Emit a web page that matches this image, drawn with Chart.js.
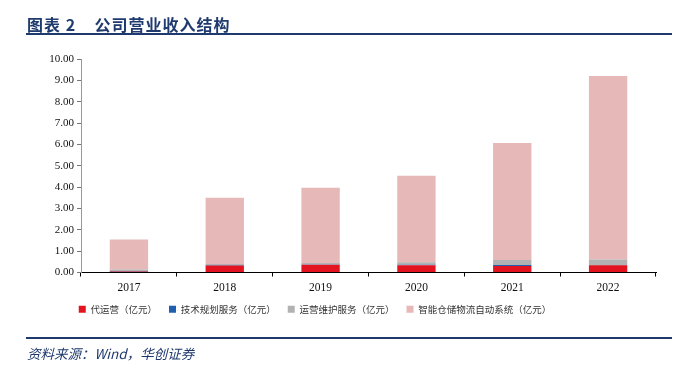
<!DOCTYPE html>
<html>
<head>
<meta charset="utf-8">
<script src="https://cdn.jsdelivr.net/npm/chart.js@4"></script>
<style>
  body { margin: 0; background: #fff; }
  #wrap { position: relative; width: 689px; height: 376px; }
  #title {
    position: absolute; left: 27px; top: 12px;
    font: bold 16px "Noto Sans CJK SC", sans-serif; color: #1f3a6e;
    letter-spacing: 1px; white-space: pre;
  }
  .rule { position: absolute; left: 26px; width: 646px; background: #1f3a6e; }
  #source {
    position: absolute; left: 27px; top: 343px;
    font: italic 13.5px "Noto Sans CJK SC", sans-serif; color: #1f3a6e;
  }
  canvas { position: absolute; left: 0; top: 0; }
</style>
</head>
<body>
<div id="wrap">
  <canvas id="chart" width="689" height="376"></canvas>
  <div id="title">图表 2    公司营业收入结构</div>
  <div class="rule" style="top:33px;height:2px"></div>
  <div class="rule" style="top:337px;height:2px"></div>
  <div id="source">资料来源：Wind，华创证券</div>
</div>
<script>
const years = ["2017", "2018", "2019", "2020", "2021", "2022"];
const agencyOps = [0.05, 0.33, 0.36, 0.34, 0.30, 0.34];      // 代运营
const techPlanning = [0.02, 0.02, 0.02, 0.02, 0.05, 0.01];   // 技术规划服务
const maintenance = [0.07, 0.05, 0.06, 0.12, 0.23, 0.26];    // 运营维护服务
const smartLogistics = [1.40, 3.10, 3.53, 4.05, 5.49, 8.59]; // 智能仓储物流自动系统
const yTicks = [0, 1, 2, 3, 4, 5, 6, 7, 8, 9, 10];

const serif = "'Liberation Serif', 'Times New Roman', serif";

// nudge the legend left so it sits where the original does
const shiftLegend = {
  id: "shiftLegend",
  afterLayout(chart) {
    const lg = chart.legend;
    lg.left -= 13;
    lg.right -= 13;
  }
};

new Chart(document.getElementById("chart"), {
  type: "bar",
  data: {
    labels: years,
    datasets: [
      { label: "代运营（亿元）", data: agencyOps, backgroundColor: "#e3141f" },
      { label: "技术规划服务（亿元）", data: techPlanning, backgroundColor: "#1f5fb0" },
      { label: "运营维护服务（亿元）", data: maintenance, backgroundColor: "#b2b2b2" },
      { label: "智能仓储物流自动系统（亿元）", data: smartLogistics, backgroundColor: "#e6b8b7" }
    ]
  },
  options: {
    responsive: false,
    animation: false,
    layout: { padding: { top: 59, right: 33, bottom: 52, left: 0 } },
    datasets: { bar: { categoryPercentage: 1, barPercentage: 0.4 } },
    scales: {
      x: {
        stacked: true,
        afterFit: s => { s.height = 20; },
        border: { color: "#000", width: 1 },
        grid: { drawOnChartArea: false, tickLength: 4, color: "#000" },
        ticks: { padding: 5, color: "#111", font: { size: 11.5, family: serif } }
      },
      y: {
        stacked: true,
        min: 0,
        max: 10,
        afterFit: s => { s.width = 81; },
        afterBuildTicks: s => { s.ticks = yTicks.map(v => ({ value: v })); },
        border: { color: "#999", width: 1 },
        grid: { drawOnChartArea: false, tickLength: 4, color: "#777" },
        ticks: {
          padding: 3,
          color: "#111",
          font: { size: 11, family: serif },
          callback: v => v.toFixed(2)
        }
      }
    },
    plugins: {
      tooltip: { enabled: false },
      legend: {
        position: "bottom",
        labels: {
          boxWidth: 7,
          boxHeight: 7,
          padding: 12,
          color: "#333",
          font: { size: 9.5, family: "'Noto Sans CJK SC', sans-serif" }
        }
      }
    }
  },
  plugins: [shiftLegend]
});
</script>
</body>
</html>
